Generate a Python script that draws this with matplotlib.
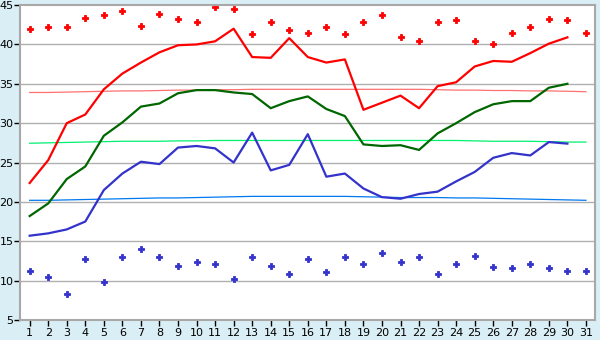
import numpy as np
import matplotlib
matplotlib.use("Agg")
from matplotlib import pyplot as plt

days = np.arange(1, 32)
days30 = days[:30]

# daily maxima / minima (markers)
max_points = [42.0, 42.2, 42.2, 43.4, 43.8, 44.2, 42.4, 43.9, 43.2, 42.9,
              44.8, 44.5, 41.3, 42.8, 41.8, 41.4, 42.2, 41.3, 42.9, 43.8,
              41.0, 40.5, 42.8, 43.1, 40.5, 40.1, 41.4, 42.2, 43.2, 43.1, 41.4]
min_points = [11.2, 10.5, 8.3, 12.7, 9.8, 13.0, 14.0, 13.0, 11.8, 12.4,
              12.1, 10.2, 13.0, 11.9, 10.8, 12.8, 11.1, 13.0, 12.1, 13.5,
              12.3, 13.0, 10.9, 12.1, 13.1, 11.7, 11.6, 12.1, 11.6, 11.2, 11.2]

# average high / mean / low lines (30 days)
high_line = [22.4, 25.3, 30.0, 31.1, 34.3, 36.3, 37.7, 39.0, 39.9, 40.0,
             40.4, 42.0, 38.4, 38.3, 40.8, 38.4, 37.7, 38.1, 31.7, 32.6,
             33.5, 31.9, 34.7, 35.2, 37.2, 37.9, 37.8, 38.9, 40.1, 40.9]
mean_line = [18.2, 19.8, 22.9, 24.5, 28.4, 30.1, 32.1, 32.5, 33.8, 34.2,
             34.2, 33.9, 33.7, 31.9, 32.8, 33.4, 31.8, 30.9, 27.3, 27.1,
             27.2, 26.6, 28.7, 30.0, 31.4, 32.4, 32.8, 32.8, 34.5, 35.0]
low_line = [15.7, 16.0, 16.5, 17.5, 21.5, 23.6, 25.1, 24.8, 26.9, 27.1,
            26.8, 25.0, 28.8, 24.0, 24.7, 28.6, 23.2, 23.6, 21.7, 20.6,
            20.4, 21.0, 21.3, 22.6, 23.8, 25.6, 26.2, 25.9, 27.6, 27.4]

# normals (31 days)
normal_high = [33.9, 33.9, 33.95, 34.0, 34.05, 34.1, 34.1, 34.15, 34.2, 34.2,
               34.25, 34.25, 34.3, 34.3, 34.3, 34.3, 34.3, 34.3, 34.3, 34.3,
               34.3, 34.3, 34.25, 34.2, 34.2, 34.15, 34.15, 34.1, 34.1, 34.05, 34.0]
normal_mean = [27.45, 27.5, 27.55, 27.6, 27.65, 27.7, 27.7, 27.7, 27.75, 27.75,
               27.8, 27.8, 27.8, 27.8, 27.8, 27.8, 27.8, 27.8, 27.8, 27.8,
               27.8, 27.8, 27.8, 27.8, 27.75, 27.7, 27.7, 27.7, 27.65, 27.6, 27.6]
normal_low = [20.2, 20.2, 20.25, 20.3, 20.35, 20.4, 20.45, 20.5, 20.5, 20.55,
              20.6, 20.65, 20.7, 20.7, 20.7, 20.7, 20.7, 20.7, 20.65, 20.6,
              20.55, 20.55, 20.55, 20.5, 20.5, 20.45, 20.4, 20.35, 20.3, 20.25, 20.2]

bg = '#daeef5'
fig = plt.figure(figsize=(6, 3.4), dpi=100, facecolor=bg)
ax = fig.add_axes([0.034, 0.059, 0.958, 0.926])
ax.set_facecolor('white')

for y in range(10, 45, 5):
    ax.axhline(y, color='#b0b0b0', lw=1.0, zorder=0)

ax.plot(days, normal_high, color='#ff7070', lw=0.9)
ax.plot(days, normal_mean, color='#00f070', lw=0.9)
ax.plot(days, normal_low, color='#0078f0', lw=0.9)

ax.plot(days30, high_line, color='#ff0000', lw=1.6)
ax.plot(days30, mean_line, color='#006600', lw=1.6)
ax.plot(days30, low_line, color='#3333cc', lw=1.6)

ax.plot(days, max_points, ls='none', marker='P', ms=4.5, color='#ff0000', mew=0.6)
ax.plot(days, min_points, ls='none', marker='P', ms=4.5, color='#3333cc', mew=0.6)

ax.set_xlim(0.5, 31.5)
ax.set_ylim(5, 45)
ax.set_xticks(days)
ax.set_yticks(range(5, 50, 5))
ax.tick_params(labelsize=8, colors='black', length=4, width=1)
ax.tick_params(axis='x', pad=2)
ax.tick_params(axis='y', pad=1)
for s in ax.spines.values():
    s.set_color('#a8a8a8')
    s.set_linewidth(1.5)

fig.savefig('out.png', dpi=100, facecolor=bg)
